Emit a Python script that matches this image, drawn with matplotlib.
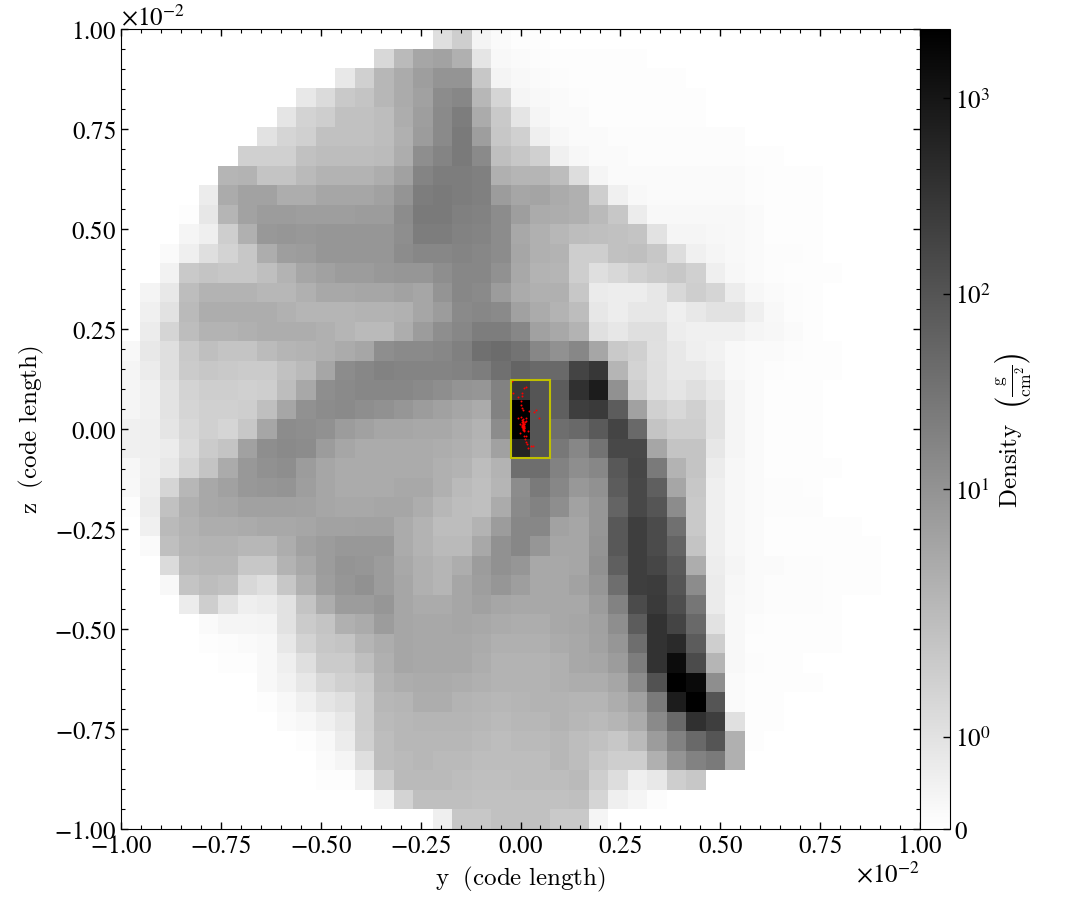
import numpy as np
import matplotlib
matplotlib.use("Agg")
import matplotlib.pyplot as plt
from matplotlib.colors import SymLogNorm
from matplotlib.patches import Rectangle
from matplotlib.ticker import MultipleLocator, ScalarFormatter

plt.rcParams["font.family"] = "STIXGeneral"
plt.rcParams["mathtext.fontset"] = "stix"
plt.rcParams["font.size"] = 18

# Projected density, one row per cell row, top of the image first (g/cm^2)
# rows are padded with zeros on the right further down
density_rows = [
    [0]*16 + [1.11, 1.69, .4, .17, .1, .07, .03],
    [0]*13 + [1.35, 2.39, 5.0, 5.6, 3.46, .91, .27, .17, .13, .07, .07, .07, .07, .07],
    [0]*11 + [.78, 1.59, 2.67, 4.16, 6.5, 9.4, 9.4, 1.92, .4, .24, .17, .13, .1, .07, .07, .07, .07, .07],
    [0]*9 + [.78, 1.25, 1.86, 2.02, 2.67, 4.16, 6.0, 12.6, 15.2, 2.67, 1.45, .34, .27, .17, .13, .07, .07, .07, .07, .07, .07],
    [0]*8 + [.91, 1.52, 1.69, 2.13, 2.13, 2.26, 3.86, 6.5, 13.6, 22, 4.16, 1.86, .91, .34, .2, .17, .1, .1, .1, .1, .1, .1, .03],
    [0]*7 + [1.0, 1.45, 1.59, 2.13, 2.13, 2.13, 2.26, 3.46, 7.2, 13.6, 24.6, 6.5, 1.92, 1.59, .57, .3, .2, .17, .12, .12, .12, .12, .12, .12, .12, .03],
    [0]*6 + [1.59, 1.59, 1.59, 2.13, 2.26, 2.26, 2.26, 2.3, 3.86, 11.7, 17, 24.6, 13.6, 2.19, 1.92, 1.59, .51, .3, .2, .17, .13, .13, .13, .13, .13, .13, .07, .07],
    [0]*5 + [2.87, 3.08, 2.02, 2.02, 2.39, 3.08, 3.08, 3.08, 3.86, 6.0, 17, 22, 22, 19.7, 3.46, 2.87, 2.87, 2.26, 1.18, .37, .2, .17, .17, .17, .17, .17, .17, .13, .1, .07, .07],
    [0]*4 + [.67, 4.16, 5.6, 5.6, 3.86, 3.86, 5.0, 5.0, 5.0, 6.0, 9.4, 22, 24.6, 22, 19.7, 7.2, 5.0, 5.3, 4.16, 3.46, 1.69, .51, .24, .2, .2, .2, .2, .2, .13, .07, .07, .07, .03],
    [0]*3 + [.1, .84, 2.87, 5.6, 7.2, 7.2, 6.5, 6.5, 6.5, 7.2, 7.2, 12.6, 24.6, 24.6, 19.7, 18.3, 12.6, 6.5, 4.16, 3.86, 3.46, 2.39, 1.92, .67, .24, .24, .27, .27, .24, .17, .1, .1, .07, .03],
    [0]*3 + [.34, .57, 1.69, 3.46, 8.1, 8.7, 8.1, 8.7, 8.7, 8.7, 8.7, 11.7, 22, 22, 18.3, 17, 12.6, 4.48, 3.46, 2.67, 2.26, 2.19, 2.13, 2.02, 1.0, .37, .34, .3, .27, .2, .1, .1, .1, .03],
    [0]*2 + [.17, .57, 1.11, 1.52, 1.92, 3.86, 6.5, 7.2, 8.7, 8.7, 8.7, 8.7, 12.6, 15.2, 15.2, 17, 15.2, 12.6, 5.0, 3.46, 3.08, 1.69, 1.69, 2.13, 2.19, 1.92, 1.18, .51, .34, .24, .17, .13, .13, .07, .03],
    [0]*2 + [.44, 1.86, 2.02, 1.92, 1.92, 2.19, 3.08, 5.0, 6.0, 7.2, 7.2, 8.1, 8.7, 8.7, 11.7, 15.2, 15.2, 10.5, 4.48, 3.08, 2.87, 1.69, 1.11, 1.35, 1.59, 1.79, 1.92, 1.59, .57, .3, .17, .13, .07, .07, .07, .03, .03, .03],
    [0] + [.4, .78, 2.26, 3.08, 3.08, 3.08, 2.67, 2.67, 3.46, 4.48, 4.48, 5.0, 5.0, 5.6, 5.0, 9.4, 15.2, 13.6, 7.2, 4.16, 3.46, 3.46, 1.92, .71, .61, .61, .84, 1.35, 1.69, 1.45, .67, .3, .17, .13, .1, .03, .03, .03, .03],
    [0] + [.51, 1.0, 2.39, 3.86, 3.86, 3.86, 3.86, 3.3, 2.87, 2.87, 2.87, 3.08, 3.08, 3.3, 5.0, 7.2, 13.6, 15.2, 13.6, 6.0, 4.16, 3.08, 2.26, .84, .61, .84, .84, .57, .78, 1.0, 1.0, .57, .24, .13, .1, .03, .03, .03, .03],
    [0] + [.67, 1.45, 2.26, 3.08, 3.08, 3.46, 3.86, 3.86, 3.86, 3.46, 2.87, 2.39, 2.39, 3.86, 7.2, 11.7, 15.2, 22, 22, 15.2, 6.0, 4.48, 3.08, 1.05, .84, 1.11, 1.11, .64, .51, .51, .51, .37, .3, .2, .1, .03, .03, .03, .03],
    [.27, .78, 1.11, 1.86, 2.19, 2.02, 2.02, 2.3, 2.87, 3.08, 3.46, 4.16, 5.0, 11.7, 13.6, 13.6, 15.2, 19.7, 36, 41, 32, 15.2, 10.5, 15.2, 5.0, 1.86, 1.59, 1.05, .78, .57, .44, .24, .2, .17, .13, .07, .07],
    [.34, .67, 1.11, 1.79, 1.92, 1.86, 1.79, 1.79, 2.13, 2.39, 5.0, 12.6, 15.2, 18.3, 17, 17, 17, 18.3, 22, 36, 56, 46, 46, 182, 294, 2.87, 1.52, 1.11, .78, .78, .57, .27, .17, .13, .1, .07, .07],
    [.34, .51, .98, 1.52, 1.69, 1.69, 1.59, 1.69, 2.26, 4.48, 11.7, 13.6, 15.2, 15.2, 15.2, 13.6, 11.7, 9.4, 8.7, 18.3, 294, 97, 75, 382, 802, 10.5, 1.69, 1.11, .91, 1.11, .78, .34, .17, .1, .1, .1, .03],
    [.34, .51, .98, 1.45, 1.59, 1.59, 1.69, 2.19, 5.0, 10.5, 12.6, 13.6, 11.7, 10.5, 8.7, 7.2, 6.0, 5.0, 4.16, 18.3, 2259, 97, 67, 227, 264, 75, 6.0, 1.59, 1.35, 1.59, 1.0, .34, .17, .1, .1, .1],
    [.51, .57, .91, 1.35, 1.59, 1.45, 1.92, 5.0, 12.6, 11.7, 10.5, 7.2, 6.0, 5.0, 5.0, 4.48, 4.48, 3.86, 3.08, 12.6, 2259, 97, 38, 46, 81, 182, 46, 2.02, 1.69, 1.69, 1.0, .34, .2, .1, .1, .1],
    [.51, .57, .67, 1.25, 1.79, 2.02, 6.0, 11.7, 13.6, 12.6, 7.2, 5.0, 4.16, 4.16, 4.16, 4.16, 3.86, 3.46, 2.87, 6.0, 618, 97, 26.5, 15.2, 32, 157, 157, 5.0, 2.02, 2.02, .84, .34, .17, .1, .1, .1],
    [.3, .51, .78, 1.45, 2.02, 4.16, 8.1, 10.5, 11.7, 7.2, 5.0, 4.16, 4.16, 4.16, 4.16, 4.16, 3.46, 3.08, 2.26, 3.08, 38, 38, 18.3, 11.7, 15.2, 87, 169, 24.6, 3.08, 2.02, .67, .3, .17, .1, .1, .1, .1],
    [.27, .57, 1.45, 2.67, 4.48, 6.0, 8.1, 8.7, 9.4, 6.5, 5.0, 4.16, 4.16, 4.16, 4.48, 4.48, 3.46, 2.39, 2.19, 2.87, 12.6, 24.6, 15.2, 8.1, 10.5, 75, 157, 67, 5.0, 1.92, .57, .3, .17, .13, .13, .07],
    [.1, .67, 2.13, 3.46, 4.48, 5.0, 6.0, 6.0, 6.0, 5.6, 5.0, 4.48, 4.48, 5.0, 5.0, 3.86, 2.67, 2.26, 2.19, 4.16, 13.6, 18.3, 11.7, 5.6, 8.7, 56, 157, 97, 12.6, 1.86, .57, .3, .17, .13, .13, .13, .03],
    [0, .51, 2.39, 3.08, 3.86, 3.86, 4.16, 4.48, 4.48, 5.0, 5.6, 5.6, 6.0, 6.0, 4.16, 3.08, 2.26, 2.26, 3.08, 7.2, 15.2, 15.2, 5.6, 5.0, 8.7, 87, 227, 140, 36, 1.86, .57, .3, .17, .1, .1, .1, .1, .07],
    [0, .17, 2.19, 2.87, 3.08, 3.08, 2.67, 2.67, 3.86, 6.0, 7.2, 8.1, 8.1, 8.1, 4.16, 3.08, 2.39, 2.39, 4.48, 10.5, 15.2, 8.7, 5.0, 5.0, 9.4, 87, 227, 140, 56, 2.02, .57, .3, .17, .1, .1, .1, .1, .07, .07],
    [0, 0, 1.25, 2.39, 2.67, 2.67, 1.92, 1.92, 3.08, 4.48, 7.2, 9.4, 8.7, 7.2, 4.48, 3.46, 2.87, 3.86, 7.2, 10.5, 8.7, 4.48, 4.48, 5.0, 10.5, 67, 227, 169, 81, 3.86, .64, .34, .2, .17, .13, .13, .1, .1, .07],
    [0, 0, .24, 2.02, 2.26, 2.13, 1.35, 1.11, 1.92, 3.46, 6.5, 8.7, 10.5, 7.2, 5.0, 3.46, 2.87, 5.0, 6.5, 8.7, 6.5, 4.48, 4.48, 5.6, 8.7, 38, 227, 245, 97, 12.6, .71, .3, .17, .13, .13, .13, .1, .1, .07],
    [0, 0, 0, .67, 1.69, 1.0, .57, .67, 1.0, 2.02, 3.86, 7.2, 7.2, 8.7, 5.0, 4.16, 4.16, 5.0, 6.0, 5.0, 4.48, 4.48, 4.48, 4.48, 7.2, 18.3, 140, 264, 126, 28.6, .71, .27, .17, .13, .13, .13, .1],
    [0, 0, 0, .03, .17, .37, .37, .4, 1.0, 1.79, 2.02, 3.46, 4.16, 7.2, 5.0, 4.48, 4.48, 5.0, 4.48, 4.16, 3.86, 3.86, 4.48, 5.0, 6.0, 11.7, 75, 355, 182, 46, 1.0, .27, .13, .1, .1, .1, .07],
    [0]*4 + [.07, .13, .2, .27, .78, 1.52, 1.92, 2.02, 2.87, 3.86, 5.0, 4.48, 4.48, 4.48, 4.16, 3.46, 3.46, 3.46, 4.16, 4.48, 5.6, 8.7, 38, 355, 477, 75, 1.69, .24, .1, .1, .1, .1, .07],
    [0]*5 + [.07, .07, .27, .57, 1.11, 1.79, 1.79, 2.19, 3.46, 5.0, 4.48, 4.48, 4.48, 3.86, 3.08, 3.08, 3.08, 3.46, 4.48, 5.0, 7.2, 22, 355, 1449, 140, 2.87, .24, .13, .07, .07, .03],
    [0]*7 + [.27, .44, .84, 1.35, 1.59, 1.79, 3.08, 3.86, 4.16, 4.16, 3.86, 3.46, 3.08, 3.08, 3.08, 3.46, 3.86, 3.86, 5.0, 12.6, 108, 2259, 1560, 11.7, .17, .1, .07, .07, .1],
    [0]*7 + [.1, .24, .51, .91, 1.11, 1.69, 2.67, 2.87, 3.86, 3.86, 3.08, 2.87, 2.67, 2.87, 3.08, 3.08, 2.87, 2.87, 3.86, 6.0, 24.6, 802, 2259, 97, .17, .1, .07, .03],
    [0]*8 + [.17, .3, .51, .84, 1.69, 2.39, 2.67, 2.87, 2.87, 2.87, 2.67, 2.39, 2.67, 2.67, 3.08, 2.67, 2.39, 2.87, 4.16, 13.6, 46, 382, 227, 1.05, .1, .07],
    [0]*8 + [.03, .1, .24, .67, 1.59, 2.26, 2.67, 2.67, 2.67, 2.67, 2.39, 2.26, 2.39, 2.39, 2.67, 2.26, 2.13, 1.92, 2.39, 7.2, 18.3, 46, 97, 3.46, .1],
    [0]*9 + [.03, .17, .34, 1.11, 2.26, 2.39, 2.67, 2.39, 2.39, 2.26, 2.26, 2.26, 2.26, 2.67, 2.26, 1.92, 1.69, 1.69, 3.46, 9.4, 18.3, 24.6, 3.46],
    [0]*10 + [.07, .1, .51, 1.69, 2.39, 2.39, 2.39, 2.26, 2.19, 2.19, 2.26, 2.26, 2.26, 2.39, 1.69, 1.18, .57, .78, 1.69, 1.92],
    [0]*13 + [.44, 1.52, 2.19, 2.19, 2.19, 2.13, 2.13, 2.13, 2.13, 2.13, 2.19, 1.45, .57, .34, .13],
    [0]*16 + [.57, 1.92, 1.92, 2.13, 2.13, 2.13, 1.86, 1.86, .34],
]

# Particles, in units of 10^-2 code length
particle_y = [-.0217, .010, .0133, -.0200, .0033, .0042, -.0075, 0, .0017, .0033, .0067, .0208, .0392, .035, .0458,
              -.0058, .0025, .015, .015, -.0025, .0058, .0075, .0042, .0067, .0092, .005, .0075, .01, .0058, .0083,
              .0108, .0042, .0092, .0183, -.0008, .01, .0142, .0125, .0142, .0167, .0267, .0308, .0183,
              .0050, .0067, .0083, .0058, .0075, .0092, .0050, .0067, .0083, .0075, .0100, .0058]
particle_z = [.119, .103, .105, .0892, .089, .0833, .081, .0692, .0608, .0517, .0483, .0458, .0483, .0433, .0283,
              .0275, .0292, .0267, .0208, .0125, .025, .0208, .0183, .015, .0117, .01, .0067, .0033, .0017, -.0017,
              .0167, .0067, -.005, -.0058, -.01, -.0167, -.0183, -.025, -.0317, -.0367, -.0433, -.0433, -.0467,
              .0225, .0175, .0125, .0133, .0092, .0083, .0050, .0042, .0017, -.0008, .0058, -.0025]

# Yellow box, cell edges in units of 10^-2 code length
box_y = [-.0244, .0732]
box_z = [-.0732, .122]

colorbar_ticks = [0, 1, 10, 100, 1000]
colorbar_labels = ["0", r"$10^{0}$", r"$10^{1}$", r"$10^{2}$", r"$10^{3}$"]

n_cells = len(density_rows)
density = np.zeros((n_cells, n_cells))
for i, row in enumerate(density_rows):
    density[i, :len(row)] = row

fig = plt.figure(figsize=(10.84, 9.2), dpi=100)
ax = fig.add_axes([121 / 1084, 1 - 830 / 920, 799 / 1084, 800 / 920])
cax = fig.add_axes([920 / 1084, 1 - 830 / 920, 30 / 1084, 800 / 920])

edges = np.linspace(-0.01, 0.01, n_cells + 1)
norm = SymLogNorm(linthresh=2.35, linscale=1.0, vmin=0, vmax=2259, base=10)
mesh = ax.pcolormesh(edges, edges[::-1], density, cmap="gray_r", norm=norm, rasterized=True)

ax.scatter(np.array(particle_y) * 0.01, np.array(particle_z) * 0.01, s=2, color="red", marker="o", linewidths=0, zorder=4)
ax.add_patch(Rectangle((box_y[0] * 0.01, box_z[0] * 0.01), (box_y[1] - box_y[0]) * 0.01, (box_z[1] - box_z[0]) * 0.01,
                       fill=False, edgecolor=(0.75, 0.75, 0), linewidth=1.5, zorder=5))

ax.set_xlim(-0.01, 0.01)
ax.set_ylim(-0.01, 0.01)
# axis labels are Computer Modern in the reference, tick labels are not
ax.set_xlabel(r"$\mathrm{y\ \ (code\ length)}$", labelpad=4, math_fontfamily="cm")
ax.set_ylabel(r"$\mathrm{z\ \ (code\ length)}$", labelpad=6, math_fontfamily="cm")

for axis in (ax.xaxis, ax.yaxis):
    axis.set_major_locator(MultipleLocator(0.0025))
    axis.set_minor_locator(MultipleLocator(0.0005))
    fmt = ScalarFormatter(useMathText=True)
    fmt.set_powerlimits((0, 0))
    axis.set_major_formatter(fmt)
ax.tick_params(which="both", direction="in", top=True, right=True)
ax.tick_params(which="major", length=5, width=1)
ax.tick_params(which="minor", length=3, width=0.8)

cbar = fig.colorbar(mesh, cax=cax)
cbar.set_ticks(colorbar_ticks)
cbar.set_ticklabels(colorbar_labels)
cbar.ax.minorticks_off()
cbar.ax.tick_params(which="major", direction="in", length=5, width=1)
cbar.set_label(r"$\mathrm{Density}\ \ \left(\frac{\mathrm{g}}{\mathrm{cm}^{2}}\right)$", labelpad=2, math_fontfamily="cm")

fig.savefig("out.png", dpi=100)
